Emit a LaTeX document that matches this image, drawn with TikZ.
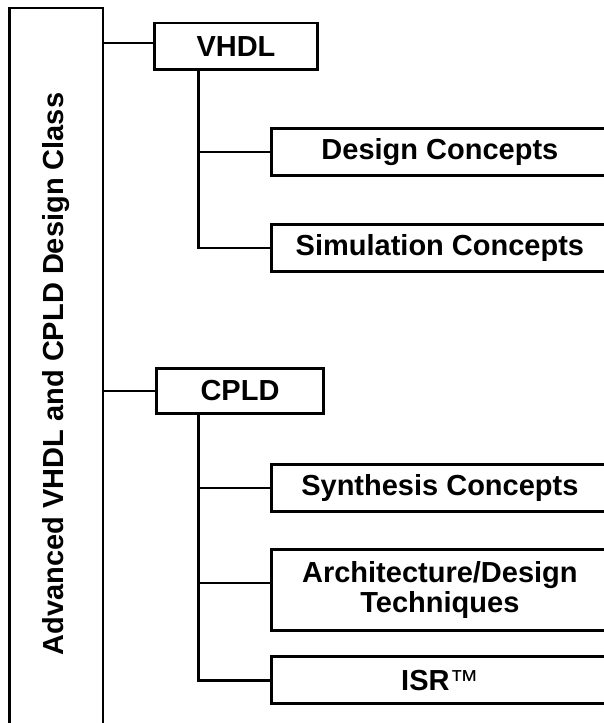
\documentclass[tikz,border=0pt]{standalone}
\usepackage{fontspec}
\setmainfont{Liberation Sans}
\usetikzlibrary{positioning}

\begin{document}
\begin{tikzpicture}[x=1pt,y=-1pt]
    \tikzstyle{cnode} = [draw, line width=2.7pt, rectangle, inner sep=0pt, font=\fontsize{29}{30}\selectfont\bfseries, align=center]
    \tikzstyle{tnode} = [cnode, minimum width=336.2pt, minimum height=47pt]
    \tikzstyle{link} = [line width=2.5pt]
    \useasboundingbox (0,0) rectangle (604,723);
    \clip (0,0) rectangle (604,723);
    % course box, open at the bottom
    \node[cnode, minimum width=93.7pt, minimum height=732pt] (title) at (56.2,374) {\rotatebox{90}{Advanced VHDL and CPLD Design Class}};
    \node[cnode, minimum width=162.6pt, minimum height=46.7pt] (vhdl) at (236,46.2) {VHDL};
    \node[tnode] (design) at (439.9,152) {Design Concepts};
    \node[tnode] (simul) at (439.9,248) {Simulation Concepts};
    \node[cnode, minimum width=167.5pt, minimum height=44.7pt] (cpld) at (240,391) {CPLD};
    \node[tnode] (synth) at (439.9,488) {Synthesis Concepts};
    \node[tnode, minimum height=81pt] (arch) at (439.9,590) {Architecture/Design\\Techniques};
    \node[tnode] (isr) at (439.9,680.3) {ISR{\mdseries ™}};
    \coordinate (vin) at ([yshift=3pt]vhdl.west);
    \draw[link] (title.east |- vin) -- (vin);
    \draw[link] (title.east |- cpld.west) -- (cpld.west);
    % VHDL topics
    \coordinate (vtrunk) at ([xshift=45.3pt]vhdl.south west);
    \draw[link] (vtrunk) |- (simul.west);
    \draw[link] (vtrunk |- design.west) -- (design.west);
    % CPLD topics
    \coordinate (ctrunk) at ([xshift=43.7pt]cpld.south west);
    \coordinate (ain) at ([yshift=7pt]arch.west);
    \draw[link] (ctrunk) |- (isr.west);
    \draw[link] (ctrunk |- synth.west) -- (synth.west);
    \draw[link] (ctrunk |- ain) -- (ain);
\end{tikzpicture}
\end{document}
